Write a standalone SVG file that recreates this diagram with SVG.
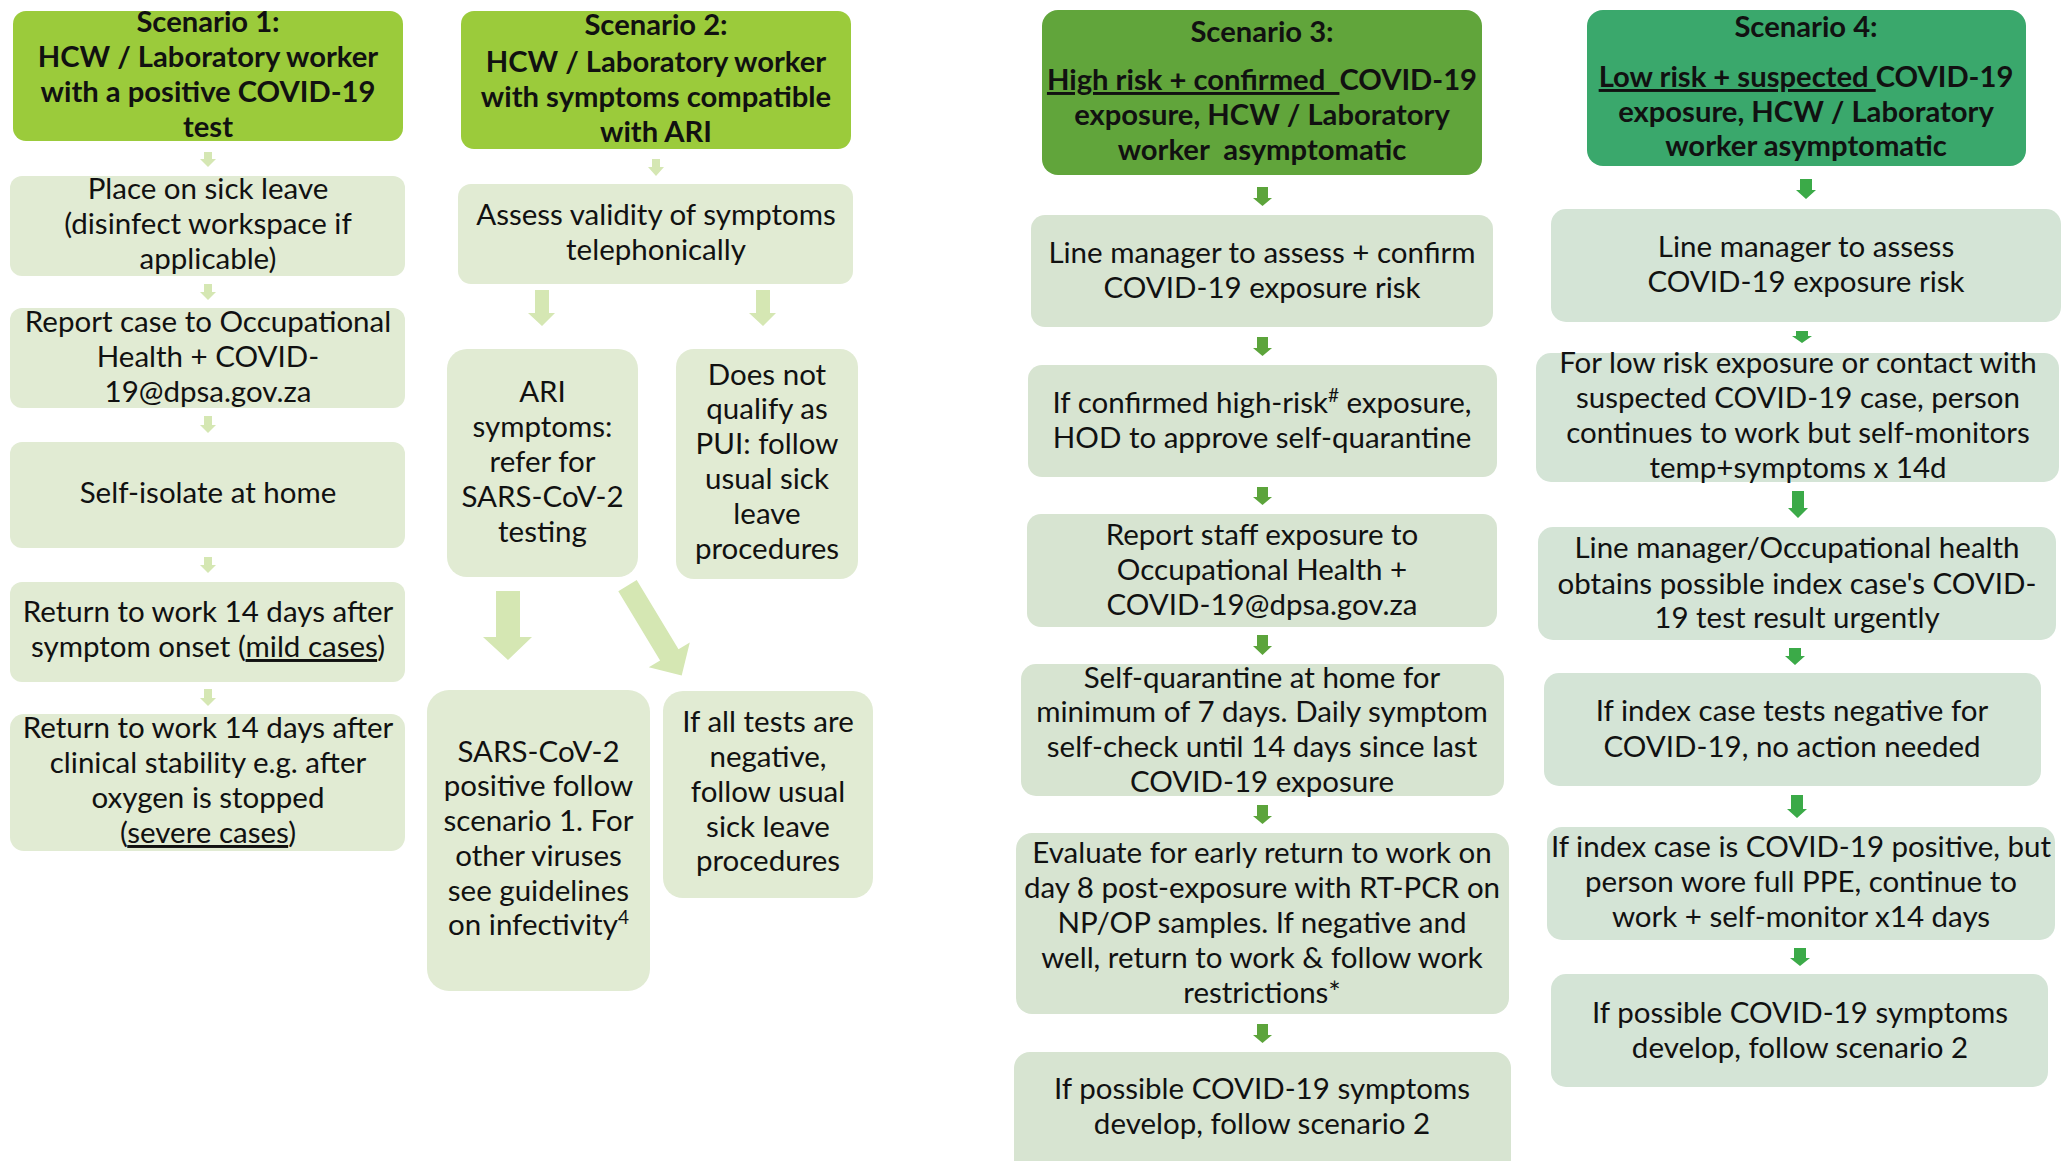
<svg xmlns="http://www.w3.org/2000/svg" width="2069" height="1161" viewBox="0 0 2069 1161">
<style>
text{font-family:Lato,"Liberation Sans",sans-serif;font-size:29.5px;fill:#111;text-anchor:middle}
.h{font-weight:bold;font-size:29.2px}
.u{text-decoration:underline}
.hd12{fill:#9BCB3B}.hd3{fill:#61A53B}.hd4{fill:#3AA86C}
.b12{fill:#E1EBD3}.b3{fill:#D7E4D1}.b4{fill:#D4E4D6}
.a12{fill:#D5E7B3}.a3{fill:#5CA43B}.a4{fill:#3BAA48}
</style>
<rect width="2069" height="1161" fill="#fff"/>
<g id="connectors">
<!-- scenario 1 -->
<polygon class="a12" points="204,152 212,152 212,159 216,159 208,167 200,159 204,159"/>
<polygon class="a12" points="204,284 212,284 212,292 216,292 208,300 200,292 204,292"/>
<polygon class="a12" points="204,416 212,416 212,425 216,425 208,433 200,425 204,425"/>
<polygon class="a12" points="204,557 212,557 212,565 216,565 208,573 200,565 204,565"/>
<polygon class="a12" points="204,689 212,689 212,698 216,698 208,706 200,698 204,698"/>
<!-- scenario 2 -->
<polygon class="a12" points="652,159 660,159 660,167 664,167 656,176 648,167 652,167"/>
<polygon class="a12" points="535,290 549,290 549,313 555,313 542,326 528,313 535,313"/>
<polygon class="a12" points="756,290 770,290 770,313 776,313 763,326 749,313 756,313"/>
<polygon class="a12" points="496,591 520,591 520,637 532,637 508,660 483,637 496,637"/>
<polygon class="a12" points="618.3,591.2 636.7,580 678.5,649.3 689.8,642.5 681.7,675.5 648.8,667.3 660.1,660.5"/>
<!-- scenario 3 -->
<polygon class="a3" points="1257,187 1268,187 1268,198 1272,198 1262.5,206 1253,198 1257,198"/>
<polygon class="a3" points="1257,337 1268,337 1268,348 1272,348 1262.5,356 1253,348 1257,348"/>
<polygon class="a3" points="1257,487 1268,487 1268,497 1272,497 1262.5,505 1253,497 1257,497"/>
<polygon class="a3" points="1257,635 1268,635 1268,646 1272,646 1262.5,655 1253,646 1257,646"/>
<polygon class="a3" points="1257,805 1268,805 1268,816 1272,816 1262.5,824 1253,816 1257,816"/>
<polygon class="a3" points="1257,1024 1268,1024 1268,1035 1272,1035 1262.5,1043 1253,1035 1257,1035"/>
<!-- scenario 4 -->
<polygon class="a4" points="1800,179 1812,179 1812,190 1816,190 1806,199 1796,190 1800,190"/>
<polygon class="a4" points="1796,331 1808,331 1808,336 1812,336 1802,343 1792,336 1796,336"/>
<polygon class="a4" points="1792,491 1804,491 1804,508 1808,508 1798,518 1788,508 1792,508"/>
<polygon class="a4" points="1789,648 1801,648 1801,656 1805,656 1795,665 1785,656 1789,656"/>
<polygon class="a4" points="1791,795 1803,795 1803,809 1807,809 1797,818 1787,809 1791,809"/>
<polygon class="a4" points="1794,948 1806,948 1806,958 1810,958 1800,966 1790,958 1794,958"/>
</g>

<!-- Scenario 1 -->
<g id="s1-header">
<rect class="hd12" x="13" y="11" width="390" height="130" rx="13"/>
<text class="h" x="208" y="32">Scenario 1:</text>
<text class="h" x="208" y="67">HCW / Laboratory worker</text>
<text class="h" x="208" y="102">with a positive COVID-19</text>
<text class="h" x="208" y="137">test</text>
</g>
<g id="s1-sickleave">
<rect class="b12" x="10" y="176" width="395" height="100" rx="12"/>
<text x="208" y="199">Place on sick leave</text>
<text x="208" y="234">(disinfect workspace if</text>
<text x="208" y="269">applicable)</text>
</g>
<g id="s1-report">
<rect class="b12" x="10" y="308" width="395" height="100" rx="12"/>
<text x="208" y="332">Report case to Occupational</text>
<text x="208" y="367">Health + COVID-</text>
<text x="208" y="402">19@dpsa.gov.za</text>
</g>
<g id="s1-isolate">
<rect class="b12" x="10" y="442" width="395" height="106" rx="12"/>
<text x="208" y="503">Self-isolate at home</text>
</g>
<g id="s1-mild">
<rect class="b12" x="10" y="582" width="395" height="100" rx="12"/>
<text x="208" y="622">Return to work 14 days after</text>
<text x="208" y="657">symptom onset (<tspan class="u">mild cases</tspan>)</text>
</g>
<g id="s1-severe">
<rect class="b12" x="10" y="714" width="395" height="137" rx="14"/>
<text x="208" y="738">Return to work 14 days after</text>
<text x="208" y="773">clinical stability e.g. after</text>
<text x="208" y="808">oxygen is stopped</text>
<text x="208" y="843">(<tspan class="u">severe cases</tspan>)</text>
</g>

<!-- Scenario 2 -->
<g id="s2-header">
<rect class="hd12" x="461" y="11" width="390" height="138" rx="13"/>
<text class="h" x="656" y="35">Scenario 2:</text>
<text class="h" x="656" y="72">HCW / Laboratory worker</text>
<text class="h" x="656" y="107">with symptoms compatible</text>
<text class="h" x="656" y="142">with ARI</text>
</g>
<g id="s2-assess">
<rect class="b12" x="458" y="184" width="395" height="100" rx="13"/>
<text x="656" y="225">Assess validity of symptoms</text>
<text x="656" y="260">telephonically</text>
</g>
<g id="s2-ari">
<rect class="b12" x="447" y="349" width="191" height="228" rx="20"/>
<text x="542.5" y="402">ARI</text>
<text x="542.5" y="437">symptoms:</text>
<text x="542.5" y="472">refer for</text>
<text x="542.5" y="507">SARS-CoV-2</text>
<text x="542.5" y="542">testing</text>
</g>
<g id="s2-notpui">
<rect class="b12" x="676" y="349" width="182" height="230" rx="18"/>
<text x="767" y="385">Does not</text>
<text x="767" y="419">qualify as</text>
<text x="767" y="454">PUI: follow</text>
<text x="767" y="489">usual sick</text>
<text x="767" y="524">leave</text>
<text x="767" y="559">procedures</text>
</g>
<g id="s2-positive">
<rect class="b12" x="427" y="690" width="223" height="301" rx="22"/>
<text x="538.5" y="762">SARS-CoV-2</text>
<text x="538.5" y="796">positive follow</text>
<text x="538.5" y="831">scenario 1. For</text>
<text x="538.5" y="866">other viruses</text>
<text x="538.5" y="901">see guidelines</text>
<text x="538.5" y="935">on infectivity<tspan dy="-11" font-size="19">4</tspan></text>
</g>
<g id="s2-negative">
<rect class="b12" x="663" y="691" width="210" height="207" rx="20"/>
<text x="768" y="732">If all tests are</text>
<text x="768" y="767">negative,</text>
<text x="768" y="802">follow usual</text>
<text x="768" y="837">sick leave</text>
<text x="768" y="871">procedures</text>
</g>

<!-- Scenario 3 -->
<g id="s3-header">
<rect class="hd3" x="1042" y="10" width="440" height="165" rx="16"/>
<text class="h" x="1262" y="42">Scenario 3:</text>
<text class="h" x="1262" y="90"><tspan class="u">High risk + confirmed&#160; </tspan>COVID-19</text>
<text class="h" x="1262" y="125">exposure, HCW / Laboratory</text>
<text class="h" x="1262" y="160">worker&#160; asymptomatic</text>
</g>
<g id="s3-assess">
<rect class="b3" x="1031" y="215" width="462" height="112" rx="14"/>
<text x="1262" y="263">Line manager to assess + confirm</text>
<text x="1262" y="298">COVID-19 exposure risk</text>
</g>
<g id="s3-hod">
<rect class="b3" x="1028" y="365" width="469" height="112" rx="14"/>
<text x="1262" y="413">If confirmed high-risk<tspan dy="-11" font-size="19">#</tspan><tspan dy="11"> exposure,</tspan></text>
<text x="1262" y="448">HOD to approve self-quarantine</text>
</g>
<g id="s3-report">
<rect class="b3" x="1027" y="514" width="470" height="113" rx="14"/>
<text x="1262" y="545">Report staff exposure to</text>
<text x="1262" y="580">Occupational Health +</text>
<text x="1262" y="615">COVID-19@dpsa.gov.za</text>
</g>
<g id="s3-quarantine">
<rect class="b3" x="1021" y="664" width="483" height="132" rx="15"/>
<text x="1262" y="688">Self-quarantine at home for</text>
<text x="1262" y="722">minimum of 7 days. Daily symptom</text>
<text x="1262" y="757">self-check until 14 days since last</text>
<text x="1262" y="792">COVID-19 exposure</text>
</g>
<g id="s3-evaluate">
<rect class="b3" x="1016" y="833" width="493" height="181" rx="16"/>
<text x="1262" y="863">Evaluate for early return to work on</text>
<text x="1262" y="898">day 8 post-exposure with RT-PCR on</text>
<text x="1262" y="933">NP/OP samples. If negative and</text>
<text x="1262" y="968">well, return to work &amp; follow work</text>
<text x="1262" y="1003">restrictions*</text>
</g>
<g id="s3-symptoms">
<rect class="b3" x="1014" y="1052" width="497" height="130" rx="16"/>
<text x="1262" y="1099">If possible COVID-19 symptoms</text>
<text x="1262" y="1134">develop, follow scenario 2</text>
</g>

<!-- Scenario 4 -->
<g id="s4-header">
<rect class="hd4" x="1587" y="10" width="439" height="156" rx="16"/>
<text class="h" x="1806" y="37">Scenario 4:</text>
<text class="h" x="1806" y="87"><tspan class="u">Low risk + suspected </tspan>COVID-19</text>
<text class="h" x="1806" y="122">exposure, HCW / Laboratory</text>
<text class="h" x="1806" y="156">worker asymptomatic</text>
</g>
<g id="s4-assess">
<rect class="b4" x="1551" y="209" width="510" height="113" rx="15"/>
<text x="1806" y="257">Line manager to assess</text>
<text x="1806" y="292">COVID-19 exposure risk</text>
</g>
<g id="s4-lowrisk">
<rect class="b4" x="1536" y="353" width="523" height="129" rx="15"/>
<text x="1798" y="373">For low risk exposure or contact with</text>
<text x="1798" y="408">suspected COVID-19 case, person</text>
<text x="1798" y="443">continues to work but self-monitors</text>
<text x="1798" y="478">temp+symptoms x 14d</text>
</g>
<g id="s4-index">
<rect class="b4" x="1538" y="527" width="518" height="113" rx="15"/>
<text x="1797" y="558">Line manager/Occupational health</text>
<text x="1797" y="594">obtains possible index case's COVID-</text>
<text x="1797" y="628">19 test result urgently</text>
</g>
<g id="s4-negative">
<rect class="b4" x="1544" y="673" width="497" height="113" rx="15"/>
<text x="1792" y="721">If index case tests negative for</text>
<text x="1792" y="757">COVID-19, no action needed</text>
</g>
<g id="s4-positive">
<rect class="b4" x="1547" y="827" width="508" height="113" rx="15"/>
<text x="1801" y="857">If index case is COVID-19 positive, but</text>
<text x="1801" y="892">person wore full PPE, continue to</text>
<text x="1801" y="927">work + self-monitor x14 days</text>
</g>
<g id="s4-symptoms">
<rect class="b4" x="1551" y="974" width="497" height="113" rx="15"/>
<text x="1800" y="1023">If possible COVID-19 symptoms</text>
<text x="1800" y="1058">develop, follow scenario 2</text>
</g>
</svg>
